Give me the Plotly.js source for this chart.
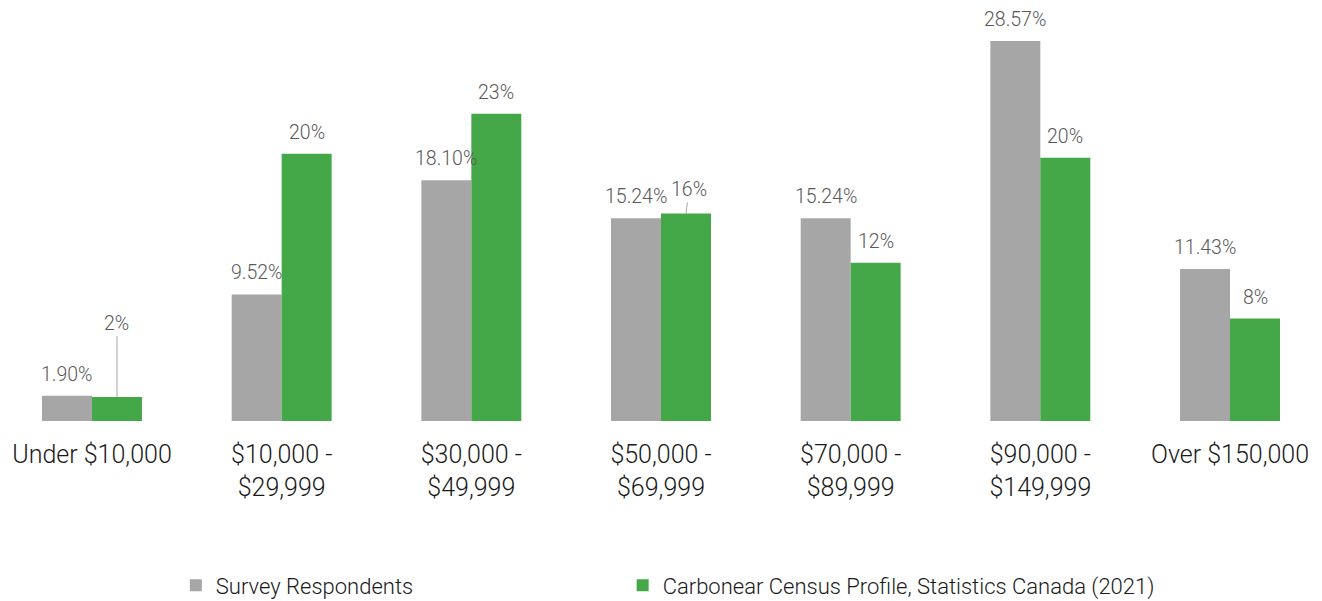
<!DOCTYPE html>
<html>
<head>
<meta charset="utf-8">
<script src="https://cdn.plot.ly/plotly-3.0.1.min.js"></script>
<style>html,body{margin:0;padding:0;background:#fff;}#chart{width:1322px;height:601px;}</style>
</head>
<body>
<div id="chart"></div>
<script>
// ---- data ----
const categories = ["Under $10,000", "$10,000 -<br>$29,999", "$30,000 -<br>$49,999", "$50,000 -<br>$69,999", "$70,000 -<br>$89,999", "$90,000 -<br>$149,999", "Over $150,000"];
const surveyValues = [1.90, 9.52, 18.10, 15.24, 15.24, 28.57, 11.43];
const surveyLabels = ["1.90%", "9.52%", "18.10%", "15.24%", "15.24%", "28.57%", "11.43%"];
const censusValues = [1.8, 20.1, 23.1, 15.6, 11.9, 19.8, 7.7];
const censusLabels = ["2%", "20%", "23%", "16%", "12%", "20%", "8%"];
const seriesNames = ["Survey Respondents", "Carbonear Census Profile, Statistics Canada (2021)"];

// ---- style ----
const FONT = "Roboto, 'Helvetica Neue', Arial, sans-serif";
const GREY = "#A6A6A6";
const GREEN = "#44A748";
const LABEL_COLOR = "#595959";
const LABEL_SIZE = 19.5;
// leader lines for crowded labels (index -> [ax, ay] in px)
const leaders = {0: [0, -74], 3: [3, -24]};

const traces = [
  {type: "bar", name: seriesNames[0], x: categories, y: surveyValues, marker: {color: GREY}, hoverinfo: "none", legend: "legend"},
  {type: "bar", name: seriesNames[1], x: categories, y: censusValues, marker: {color: GREEN}, hoverinfo: "none", legend: "legend2"}
];

const labelFont = {family: FONT, size: LABEL_SIZE, color: LABEL_COLOR, weight: 300};
const annotations = [];
categories.forEach((c, i) => {
  annotations.push({x: c, y: surveyValues[i], xref: "x", yref: "y", text: surveyLabels[i], showarrow: false,
    xshift: -25, yanchor: "bottom", yshift: 8, font: labelFont});
  const ld = leaders[i];
  if (ld) {
    annotations.push({x: c, y: censusValues[i], xref: "x", yref: "y", text: censusLabels[i], showarrow: true,
      arrowhead: 0, arrowwidth: 1, arrowcolor: "#A6A6A6", ax: ld[0], ay: ld[1], xshift: 25, standoff: 0,
      font: labelFont});
  } else {
    annotations.push({x: c, y: censusValues[i], xref: "x", yref: "y", text: censusLabels[i], showarrow: false,
      xshift: 25, yanchor: "bottom", yshift: 8, font: labelFont});
  }
});

const legendFont = {family: FONT, size: 22, color: "#1a1a1a", weight: 300};
const layout = {
  width: 1322, height: 601,
  margin: {l: 0, r: 0, t: 20, b: 180, autoexpand: false},
  paper_bgcolor: "#fff", plot_bgcolor: "#fff",
  barmode: "group", bargap: 0.473, bargroupgap: 0,
  font: {family: FONT, color: "#222", weight: 300},
  xaxis: {range: [-0.485, 6.485], showgrid: false, zeroline: false, showline: false, ticks: "", ticklabelstandoff: 16, automargin: false,
    tickfont: {family: FONT, size: 25, color: "#1a1a1a", weight: 300}},
  yaxis: {range: [0, 30.15], visible: false, fixedrange: true},
  showlegend: true,
  legend: {orientation: "h", x: 0.133, xanchor: "left", y: -0.41, yanchor: "middle",
    font: legendFont, itemwidth: 30},
  legend2: {orientation: "h", x: 0.471, xanchor: "left", y: -0.41, yanchor: "middle",
    font: legendFont, itemwidth: 30},
  annotations: annotations
};

Plotly.newPlot("chart", traces, layout, {displayModeBar: false, staticPlot: true});
</script>
</body>
</html>
